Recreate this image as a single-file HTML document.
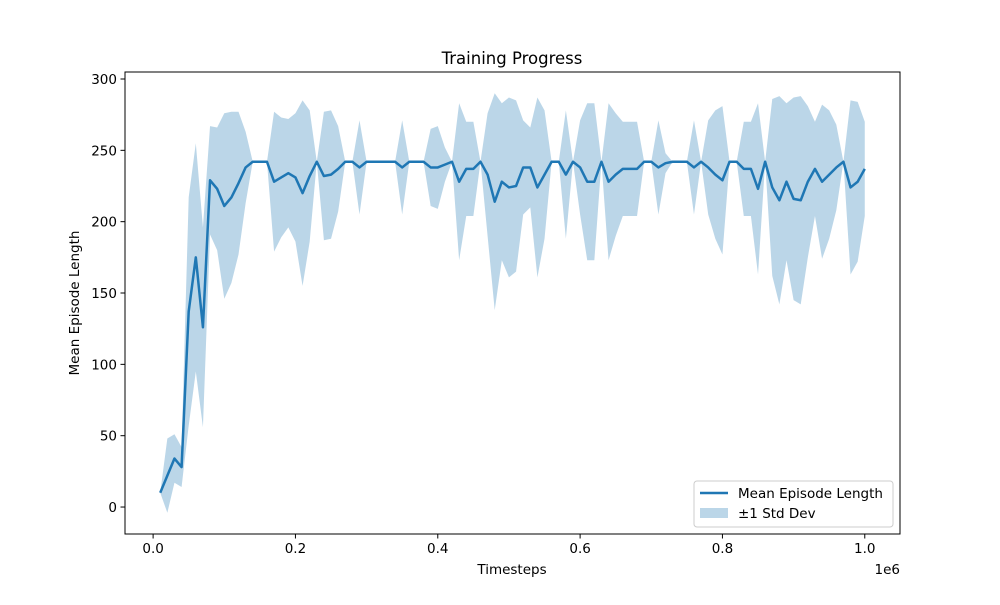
<!DOCTYPE html>
<html><head><meta charset="utf-8"><style>
body{margin:0;background:#fff;}
text{font-family:"DejaVu Sans","Liberation Sans",sans-serif;fill:#000;}
</style></head><body>
<svg id="chart" width="1000" height="600" xmlns="http://www.w3.org/2000/svg">
<rect width="1000" height="600" fill="#fff"/>
<g id="plot"></g>
</svg>
<script>
const timesteps = [];
for (let i = 1; i <= 100; i++) timesteps.push(i * 10000);
const meanValues = [10,22,34,28,137,175,126,229,223,211,217,227,238,242,242,242,228,231,234,231,220,232,242,232,233,237,242,242,238,242,242,242,242,242,238,242,242,242,238,238,240,242,228,237,237,242,233,214,228,224,225,238,238,224,233,242,242,233,242,238,228,228,242,228,233,237,237,237,242,242,238,241,242,242,242,238,242,238,233,229,242,242,237,237,223,242,224,215,228,216,215,228,237,228,233,238,242,224,228,237];
const stdValues = [0,26,17,14,80,80,70,38,43,65,60,50,25,0,0,0,49,42,38,45,65,46,0,45,45,30,0,0,33,0,0,0,0,0,33,0,0,0,27,29,12,0,55,33,33,0,43,76,55,63,60,33,28,63,45,0,0,45,0,33,55,55,0,55,43,33,33,33,0,0,33,7,0,0,0,33,0,33,45,52,0,0,33,33,60,0,62,73,55,71,73,53,33,54,45,30,0,61,56,33];
const xTicks = [0,0.2,0.4,0.6,0.8,1.0];
const xTickLabels = ["0.0","0.2","0.4","0.6","0.8","1.0"];
const yTicks = [0,50,100,150,200,250,300];

const L=125,R=900,T=72,B=534;
const xmin=-39500,xmax=1049500,ymin=-18.9,ymax=304.9;
const xs=v=>L+(v-xmin)/(xmax-xmin)*(R-L);
const ys=v=>B-(v-ymin)/(ymax-ymin)*(B-T);
const NS="http://www.w3.org/2000/svg";
const g=document.getElementById('plot');
function mk(tag,attrs,parent){const e=document.createElementNS(NS,tag);for(const k in attrs)e.setAttribute(k,attrs[k]);(parent||g).appendChild(e);return e;}

// band
let up=[],lo=[];
for(let i=0;i<timesteps.length;i++){up.push(xs(timesteps[i]).toFixed(2)+','+ys(meanValues[i]+stdValues[i]).toFixed(2));lo.push(xs(timesteps[i]).toFixed(2)+','+ys(meanValues[i]-stdValues[i]).toFixed(2));}
const band=mk('polygon',{points:up.concat(lo.reverse()).join(' '),fill:'#1f77b4','fill-opacity':'0.3',stroke:'none'});


const line=mk('polyline',{points:timesteps.map((t,i)=>xs(t).toFixed(2)+','+ys(meanValues[i]).toFixed(2)).join(' '),fill:'none',stroke:'#1f77b4','stroke-width':'2.5','stroke-linejoin':'round'});



const frame=mk('rect',{x:L,y:T,width:R-L,height:B-T,fill:'none',stroke:'#000','stroke-width':'1'});



xTicks.forEach((v,i)=>{const x=xs(v*1e6);
 mk('line',{x1:x,y1:B,x2:x,y2:B+4.5,stroke:'#000'});
 const t=mk('text',{x:x,y:B+19,'text-anchor':'middle','font-size':'13.5'});t.textContent=xTickLabels[i];
 
 
});
yTicks.forEach(v=>{const y=ys(v);
 mk('line',{x1:L-4.5,y1:y,x2:L,y2:y,stroke:'#000'});
 const t=mk('text',{x:L-8,y:y+5,'text-anchor':'end','font-size':'13.5'});t.textContent=v;
 
 
});
</script>
<svg style="position:absolute;left:0;top:0" width="1000" height="600" xmlns="http://www.w3.org/2000/svg">
<text x="512" y="64" text-anchor="middle" font-size="16.5">Training Progress</text>
<text x="512" y="574" text-anchor="middle" font-size="13.5">Timesteps</text>
<text x="900" y="574" text-anchor="end" font-size="13.5">1e6</text>
<text x="79" y="303" text-anchor="middle" font-size="13.5" transform="rotate(-90 79 303)">Mean Episode Length</text>
<g>
<rect x="694" y="481" width="199" height="46" rx="3" fill="#fff" fill-opacity="0.8" stroke="#ccc"/>
<line x1="700" y1="493" x2="728" y2="493" stroke="#1f77b4" stroke-width="2.5"/>
<text x="738" y="498" font-size="13.5">Mean Episode Length</text>
<rect x="700" y="508" width="28" height="10" fill="#1f77b4" fill-opacity="0.3"/>
<text x="738" y="518" font-size="13.5">±1 Std Dev</text>
</g>
</svg>
</body></html>
